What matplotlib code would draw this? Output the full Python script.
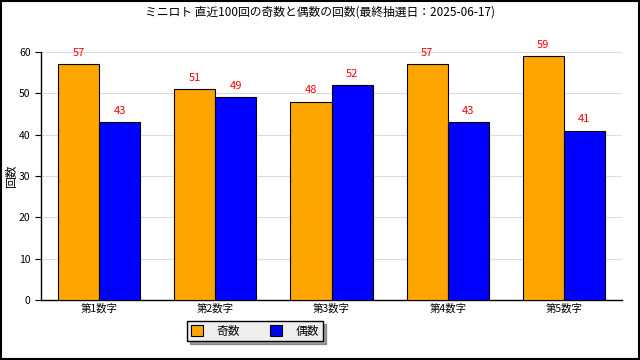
import matplotlib
matplotlib.use("Agg")
import matplotlib.pyplot as plt
import numpy as np
from matplotlib.patches import Rectangle

plt.rcParams['font.family'] = ['Noto Sans CJK JP', 'DejaVu Sans']

categories = ["第1数字", "第2数字", "第3数字", "第4数字", "第5数字"]
odd = [57, 51, 48, 57, 59]
even = [43, 49, 52, 43, 41]
series_names = ["奇数", "偶数"]
title = "ミニロト 直近100回の奇数と偶数の回数(最終抽選日：2025-06-17)"

fig = plt.figure(figsize=(6.4, 3.6), dpi=100)
fig.patch.set_facecolor("white")
fig.add_artist(Rectangle((0.0015, 0.0025), 0.997, 0.995, transform=fig.transFigure,
                         fill=False, edgecolor="black", linewidth=1.5))

ax = fig.add_axes([41/640, 1-300/360, (622-41)/640, (300-52)/360])
x = np.arange(len(categories))
w = 0.353
b1 = ax.bar(x - w/2, odd, w, color="#FFA500", edgecolor="black", linewidth=0.8, label=series_names[0], zorder=3)
b2 = ax.bar(x + w/2, even, w, color="#0000FF", edgecolor="black", linewidth=0.8, label=series_names[1], zorder=3)
for bars, vals in ((b1, odd), (b2, even)):
    for r, v in zip(bars, vals):
        ax.text(r.get_x() + r.get_width()/2, v + 1.5, str(v), ha="center", va="bottom",
                color="red", fontsize=8, clip_on=False)

ax.set_xlim(-0.5, 4.5)
ax.set_ylim(0, 60)
ax.set_yticks(range(0, 61, 10))
ax.set_xticks(x)
ax.set_xticklabels(categories)
ax.tick_params(axis="both", labelsize=7.5, length=4, width=0.8)
ax.tick_params(axis="x", length=0, pad=3)
ax.yaxis.grid(True, color="#dddddd", linewidth=0.8, zorder=0)
ax.spines["top"].set_visible(False)
ax.spines["right"].set_visible(False)
ax.spines["left"].set_linewidth(1)
ax.spines["bottom"].set_linewidth(1)
ax.set_ylabel("回数", fontsize=8.5)
ax.yaxis.set_label_coords((18-41)/581, 0.5)
fig.text(0.5, 1-12/360, title, ha="center", va="center", fontsize=8.5)

leg = fig.legend(handles=[b1, b2], loc="center", bbox_to_anchor=(255/640, 1-331/360),
                 ncol=2, fontsize=8.5, frameon=True, fancybox=False, shadow=True,
                 handlelength=1.0, handleheight=1.0, columnspacing=2.5, handletextpad=1.2,
                 borderpad=0.3)
leg.get_frame().set_edgecolor("black")
leg.get_frame().set_facecolor("#eeeeee")
leg.get_frame().set_linewidth(1)

fig.savefig("out.png", dpi=100)
